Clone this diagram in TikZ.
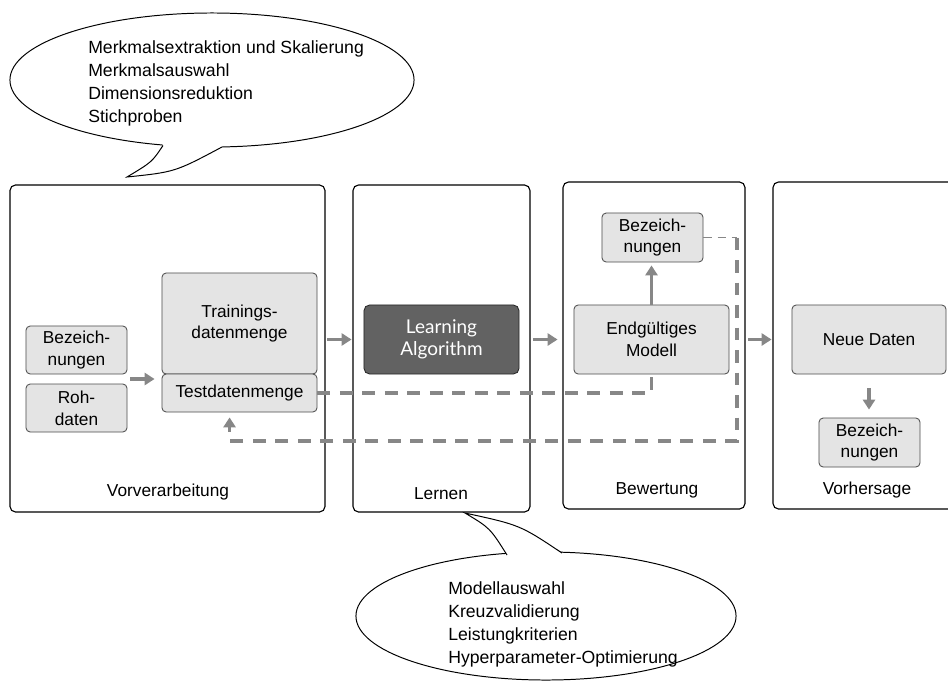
\documentclass[tikz,border=0pt]{standalone}
\usepackage{fontspec}
\setmainfont{Liberation Sans}
\newfontfamily\algfont{Lato}
\usepackage{tikz}
\usetikzlibrary{arrows.meta,shapes,positioning,calc}
\usepackage{xcolor}
\definecolor{boxgray}{HTML}{E4E4E4}
\definecolor{linegray}{HTML}{878787}
\definecolor{darkbox}{HTML}{626262}

\begin{document}
\begin{tikzpicture}[
    x=0.025cm, y=-0.025cm,
    font=\fontsize{12.3}{15.6}\selectfont,
    panel/.style={draw, rounded corners=4pt, line width=0.8pt},
    databox/.style={
        draw=black!70,
        fill=boxgray,
        rounded corners=3pt,
        line width=0.6pt,
        align=center,
        inner sep=0pt
    },
    algbox/.style={
        draw=black!85,
        fill=darkbox,
        text=white,
        rounded corners=4pt,
        line width=0.6pt,
        align=center,
        inner sep=0pt,
        font=\algfont\fontsize{13.5}{15.6}\selectfont
    },
    flow/.style={draw=linegray, line width=2.2pt, -{Triangle[length=7pt,width=8.5pt]}},
    loopline/.style={draw=linegray, line width=2.2pt, dash pattern=on 9pt off 7pt},
    bubble/.style={draw, fill=white, line width=0.7pt},
    notes/.style={anchor=west, align=left, inner sep=0pt, font=\fontsize{12.55}{16.3}\selectfont}
]
\useasboundingbox (0,0) rectangle (948,685);

% ---------------- Panels ----------------
\node[panel, minimum width=7.875cm, minimum height=8.175cm] (prep) at (167.5,348.5) {};
\node[panel, minimum width=4.425cm, minimum height=8.175cm] (learnp) at (441.5,348.5) {};
\node[panel, minimum width=4.55cm, minimum height=8.175cm] (evalp) at (654,345.5) {};
\node[panel, minimum width=4.8cm, minimum height=8.175cm] (predp) at (869,345.5) {};

\node (lprep) at (168,492) {Vorverarbeitung};
\node (llearn) at (441,494) {Lernen};
\node (leval) at (657,490) {Bewertung};
\node (lpred) at (867,490) {Vorhersage};

% ---------------- Boxes ----------------
\node[databox, minimum width=2.525cm, minimum height=1.2cm] (lab1) at (76.5,350) {Bezeich-\\nungen};
\node[databox, minimum width=2.525cm, minimum height=1.2cm] (roh) at (76.5,408) {Roh-\\daten};
\node[databox, minimum width=3.875cm, minimum height=2.525cm] (train) at (239.5,323.5) {Trainings-\\datenmenge};
\node[databox, minimum width=3.875cm, minimum height=0.95cm] (test) at (239.5,393) {Testdatenmenge};

\node[algbox, minimum width=3.875cm, minimum height=1.725cm] (learn) at (441.5,339.5) {Learning\\Algorithm};

\node[databox, minimum width=2.525cm, minimum height=1.225cm] (lab3) at (652.5,237.5) {Bezeich-\\nungen};
\node[databox, minimum width=3.875cm, minimum height=1.725cm] (model) at (651.5,339.5) {Endgültiges\\Modell};

\node[databox, minimum width=3.85cm, minimum height=1.725cm] (neu) at (869,339.5) {Neue Daten};
\node[databox, minimum width=2.525cm, minimum height=1.225cm] (lab4) at (869.5,442.5) {Bezeich-\\nungen};

% ---------------- Arrows ----------------
\coordinate (rawmid) at ($(lab1.south east)!0.5!(roh.north east)$);
\draw[flow, shorten <=0.075cm, shorten >=0.175cm] (rawmid) -- (rawmid -| test.west);
\draw[flow, shorten <=0.25cm, shorten >=0.3cm] (train.east |- learn) -- (learn.west);
\draw[flow, shorten <=0.35cm, shorten >=0.4cm] (learn.east) -- (model.west);
\draw[flow, shorten <=0.475cm, shorten >=0.5cm] (model.east) -- (neu.west);
\draw[flow, shorten >=0.075cm] (model.north) -- (model.north |- lab3.south);
\draw[flow, shorten <=0.35cm, shorten >=0.2cm] (neu.south) -- (neu.south |- lab4.north);

% ---------------- Test loop ----------------
\coordinate (backcorner) at (737,441);
\draw[loopline] (test.east) -| (model.south);
\draw[loopline, line width=1.3pt, dash pattern=on 6pt off 4pt] (lab3.east) -- (lab3.east -| backcorner);
\draw[loopline, -{Triangle[length=7pt,width=8.5pt]}, shorten >=0.125cm]
    (lab3.east -| backcorner) -- (backcorner) -| ($(test.south west)+(68,0)$);

% ---------------- Bubbles ----------------
\draw[bubble] (212,80) ellipse [x radius=5.05cm, y radius=1.675cm];
\fill[white] (160,138) -- (163,145.5) .. controls (152,162) .. (127,177)
    .. controls (175,172) .. (222,147) -- (224,138) -- cycle;
\draw[line width=0.7pt] (163,145.5) .. controls (152,162) .. (127,177)
    .. controls (175,172) .. (222,147);
\node[notes] (prepnotes) at (88,83.5) {Merkmalsextraktion und Skalierung\\Merkmalsauswahl\\Dimensionsreduktion\\Stichproben};

\draw[bubble] (546,616) ellipse [x radius=4.75cm, y radius=1.6cm];
\fill[white] (503,560) -- (507,555) .. controls (490,528) .. (465,513)
    .. controls (520,525) .. (562,553) -- (565,560) -- cycle;
\draw[line width=0.7pt] (507,555) .. controls (490,528) .. (465,513)
    .. controls (520,525) .. (562,553);
\node[notes] (learnnotes) at (448,624.5) {Modellauswahl\\Kreuzvalidierung\\Leistungkriterien\\Hyperparameter-Optimierung};

\end{tikzpicture}
\end{document}
